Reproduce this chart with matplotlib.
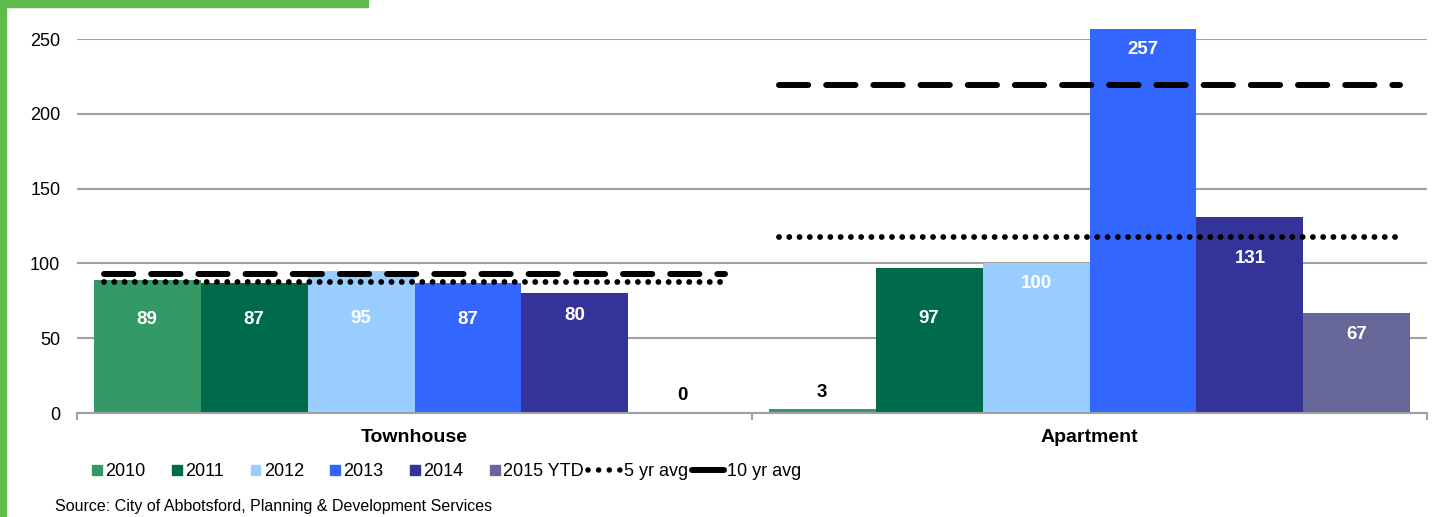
import matplotlib
matplotlib.use("Agg")
import matplotlib.pyplot as plt
from matplotlib.patches import Rectangle
from matplotlib.lines import Line2D
from matplotlib.legend_handler import HandlerPatch
import numpy as np

# data
categories = ["Townhouse", "Apartment"]
years = ["2010", "2011", "2012", "2013", "2014", "2015 YTD"]
townhouse = [89, 87, 95, 87, 80, 0]
apartment = [3, 97, 100, 257, 131, 67]
avg5 = [87.6, 117.6]
avg10 = [93, 219]
colors = ["#339966", "#006b4a", "#99ccff", "#3366ff", "#333399", "#666699"]

values = np.array([townhouse, apartment])

plt.rcParams['font.family'] = ['Liberation Sans', 'DejaVu Sans']

fig = plt.figure(figsize=(14.37, 5.17), dpi=100)
fig.patch.set_facecolor("white")

# green frame pieces
fig.patches.append(Rectangle((0, 0), 6/1437, 1, transform=fig.transFigure, color="#5fbb4c", zorder=0))
fig.patches.append(Rectangle((0, 1-7/517), 368/1437, 7/517, transform=fig.transFigure, color="#5fbb4c", zorder=0))

ax = fig.add_axes([77/1437, 1-413/517, 1350/1437, 374/517])
ax.set_xlim(-0.5, 1.5)
ax.set_ylim(0, 250)

w = 0.1585
x = np.arange(len(categories))
for j in range(len(years)):
    ax.bar(x + (j - 2.5) * w, values[:, j], width=w, color=colors[j],
           zorder=2, clip_on=False)

# avg lines
for i in range(len(categories)):
    xs = [i - 3 * w + 0.015, i + 3 * w - 0.015]
    ax.plot(xs, [avg5[i]] * 2, color="black", lw=4.2, dash_capstyle="round",
            linestyle=(0, (0.01, 1.75)), zorder=4)
    ax.plot(xs, [avg10[i]] * 2, color="black", lw=4.3, dash_capstyle="round",
            linestyle=(0, (4.9, 3.0)), zorder=4)

# data labels (y positions)
label_y = [[62.2, 62.2, 63.5, 62.2, 65.0, 12.0],
           [13.4, 63.5, 86.6, 243.0, 103.0, 52.5]]
for i in range(len(categories)):
    for j in range(len(years)):
        v = values[i, j]
        c = "white" if v > 20 else "black"
        ax.text(x[i] + (j - 2.5) * w, label_y[i][j], str(v), ha="center", va="center",
                color=c, fontsize=13.5, fontweight="bold", zorder=5)

# axes styling
ax.set_yticks(range(0, 251, 50))
ax.yaxis.grid(True, color="#a0a0a0", lw=1.5, zorder=0)
ax.set_axisbelow(True)
for s in ["left", "right", "top"]:
    ax.spines[s].set_visible(False)
ax.spines["bottom"].set_color("#a0a0a0")
ax.spines["bottom"].set_linewidth(1.5)
ax.tick_params(axis="y", length=0, pad=12, labelsize=13)
ax.set_xticks([-0.5, 0.5, 1.5])
ax.set_xticklabels([])
ax.tick_params(axis="x", length=5, width=1.5, color="#a0a0a0")
for i, c in enumerate(categories):
    ax.text(x[i], -16.5, c, ha="center", va="center", fontsize=14,
            fontweight="bold", transform=ax.transData, clip_on=False)


# legend
def square(legend, orig_handle, xdescent, ydescent, width, height, fontsize):
    s = height * 0.75
    return Rectangle((width - s - xdescent, (height - s) / 2 - ydescent), s, s)


handles = [Rectangle((0, 0), 1, 1, color=c) for c in colors]
labels = list(years)
h5 = Line2D([], [], color="black", lw=4.0, dash_capstyle="round", linestyle=(0, (0.01, 1.9)))
h10 = Line2D([], [], color="black", lw=4.3, solid_capstyle="round")
hmap = {h: HandlerPatch(patch_func=square) for h in handles}
handles += [h5, h10]
labels += ["5 yr avg", "10 yr avg"]
fig.legend(handles, labels, loc="center left", bbox_to_anchor=(70/1437, 1-472/517),
           ncol=8, frameon=False, fontsize=13, handlelength=1.75, handletextpad=0.2,
           columnspacing=0.25, handler_map=hmap, borderpad=0, borderaxespad=0)

fig.text(55/1437, 1-506/517, "Source: City of Abbotsford, Planning & Development Services",
         fontsize=11.5, va="center", ha="left")

fig.savefig("out.png", dpi=100)
